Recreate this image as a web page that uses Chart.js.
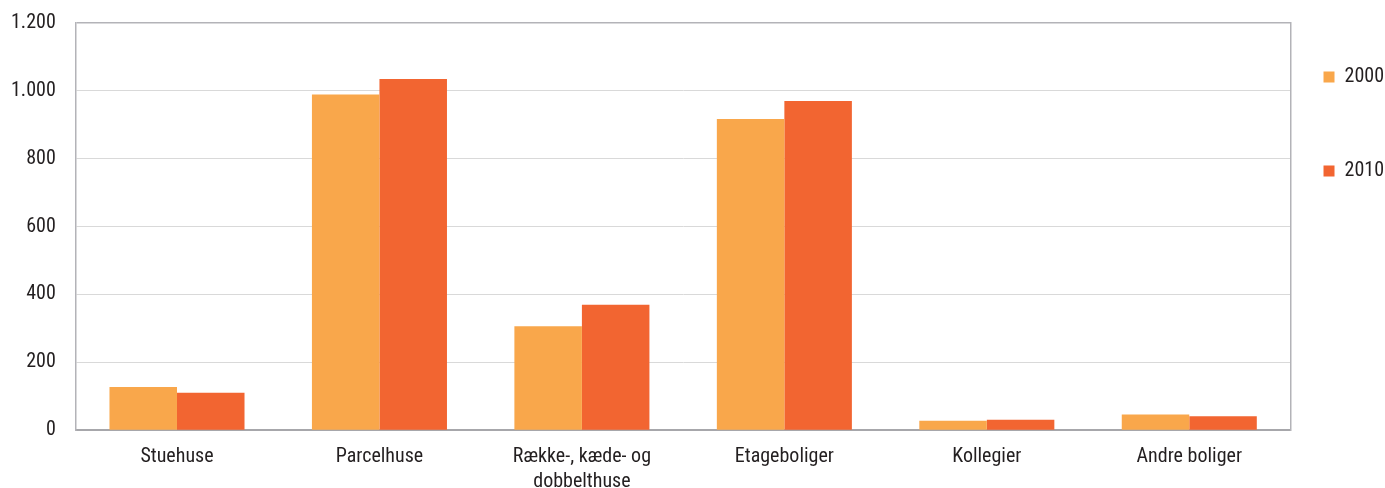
<!DOCTYPE html>
<html>
<head>
<meta charset="utf-8">
<script src="https://cdn.jsdelivr.net/npm/chart.js@4.4.0/dist/chart.umd.min.js"></script>
<style>
  body { margin: 0; background: #fff; }
  #wrap { width: 1385px; height: 488px; position: relative; }
</style>
</head>
<body>
<div id="wrap"><canvas id="myChart"></canvas></div>
<script>
// boliger fordelt på type, 2000 og 2010
const categories = ["Stuehuse", "Parcelhuse", ["Række-, kæde- og", "dobbelthuse"], "Etageboliger", "Kollegier", "Andre boliger"];
const years = ["2000", "2010"];
const values2000 = [127, 989, 306, 917, 28, 46];
const values2010 = [110, 1035, 370, 970, 31, 41];
const yMin = 0;
const yMax = 1200;
const yStep = 200;

const fontFam = "'Roboto Condensed', Roboto, sans-serif";
const textCol = "#231f20";
const borderCol = "#b3b3b8";

// tusindtalsseparator med punktum
function fmt(v) {
  return String(v).replace(/\B(?=(\d{3})+(?!\d))/g, ".");
}

var ctx = document.getElementById("myChart").getContext("2d");
var myChart = new Chart(ctx, {
  type: "bar",
  data: {
    labels: categories,
    datasets: [
      { label: years[0], data: values2000, backgroundColor: "#f9a74b" },
      { label: years[1], data: values2010, backgroundColor: "#f26531" },
    ],
  },
  options: {
    responsive: true,
    maintainAspectRatio: false,
    animation: false,
    categoryPercentage: 0.667,
    barPercentage: 1,
    layout: { padding: { left: -9, right: -9, top: 1, bottom: -21 } },
    scales: {
      x: {
        grid: { display: false, drawTicks: false },
        border: { display: true, color: "#a7a7ab", width: 2 },
        ticks: {
          color: textCol,
          padding: 14,
          maxRotation: 0,
          autoSkip: false,
          font: { family: fontFam, size: 20, lineHeight: 1.27 },
        },
      },
      y: {
        min: yMin,
        max: yMax,
        grid: {
          drawTicks: false,
          color: function (c) {
            return c.tick && c.tick.value === yMax ? borderCol : "#d9d9d9";
          },
          lineWidth: function (c) {
            return c.tick && c.tick.value === yMax ? 1.5 : 1;
          },
        },
        border: { display: true, color: borderCol, width: 1.5 },
        ticks: {
          stepSize: yStep,
          color: textCol,
          padding: 20,
          font: { family: fontFam, size: 20 },
          callback: function (v) { return fmt(v); },
        },
        // tick padding lægges også oven i toppen, så den sættes her
        afterFit: function (s) {
          s.paddingTop = 23;
        },
      },
      y2: {
        position: "right",
        min: yMin,
        max: yMax,
        grid: { display: false, drawTicks: false },
        border: { display: true, color: borderCol, width: 1.5 },
        ticks: { display: false },
      },
    },
    plugins: {
      tooltip: { enabled: false },
      legend: {
        position: "right",
        align: "start",
        title: { display: true, text: "", font: { size: 10, lineHeight: 1 }, padding: { top: 23, bottom: 0 } },
        labels: {
          color: textCol,
          boxWidth: 11,
          boxHeight: 11,
          padding: 33,
          font: { family: fontFam, size: 20, lineHeight: 1.525 },
          generateLabels: function (chart) {
            return Chart.defaults.plugins.legend.labels.generateLabels(chart).map(function (l) {
              l.text = [l.text, ""];
              l.lineWidth = 0;
              return l;
            });
          },
        },
      },
    },
  },
});
</script>
</body>
</html>
